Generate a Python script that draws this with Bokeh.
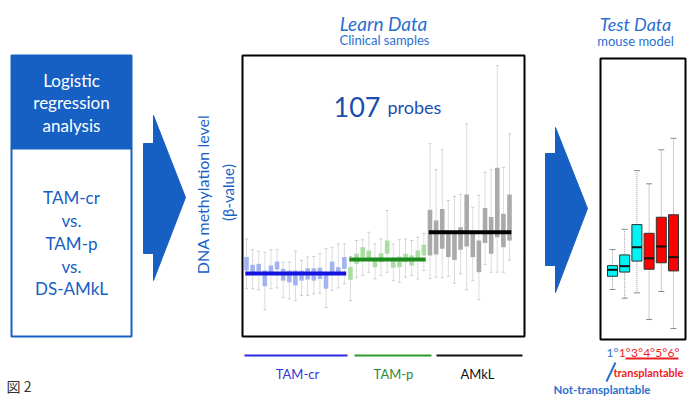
from bokeh.plotting import figure
from bokeh.models import Range1d
from bokeh.embed import file_html
from bokeh.resources import INLINE
from bokeh.core.properties import value
import math

# ---------------- data ----------------
group_names = ["TAM-cr", "TAM-p", "AMkL"]
group_level = [0.221, 0.271, 0.369]

tamcr_q3 = [0.280, 0.253, 0.256, 0.232, 0.250, 0.264, 0.238, 0.232, 0.232, 0.232, 0.240, 0.240, 0.242, 0.226, 0.264, 0.244, 0.280]
tamcr_q1 = [0.232, 0.226, 0.229, 0.176, 0.226, 0.236, 0.196, 0.190, 0.179, 0.196, 0.200, 0.196, 0.202, 0.167, 0.226, 0.226, 0.238]
tamcr_hi = [0.345, 0.306, 0.301, 0.297, 0.306, 0.306, 0.262, 0.262, 0.301, 0.268, 0.280, 0.282, 0.292, 0.310, 0.315, 0.327, 0.327]
tamcr_lo = [0.167, 0.167, 0.163, 0.092, 0.167, 0.170, 0.135, 0.131, 0.125, 0.143, 0.143, 0.149, 0.151, 0.100, 0.161, 0.170, 0.185]

tamp_q3 = [0.244, 0.292, 0.315, 0.304, 0.278, 0.294, 0.339, 0.270, 0.282, 0.292, 0.286, 0.304, 0.324]
tamp_q1 = [0.199, 0.256, 0.280, 0.274, 0.244, 0.262, 0.292, 0.242, 0.244, 0.262, 0.250, 0.274, 0.286]
tamp_hi = [0.282, 0.339, 0.342, 0.369, 0.327, 0.345, 0.446, 0.327, 0.342, 0.345, 0.339, 0.351, 0.364]
tamp_lo = [0.125, 0.208, 0.214, 0.226, 0.202, 0.214, 0.226, 0.196, 0.190, 0.208, 0.214, 0.202, 0.232]

amkl_q3 = [0.449, 0.411, 0.452, 0.375, 0.369, 0.387, 0.504, 0.375, 0.339, 0.455, 0.423, 0.599, 0.435, 0.504]
amkl_q1 = [0.286, 0.289, 0.310, 0.280, 0.270, 0.306, 0.318, 0.280, 0.226, 0.330, 0.292, 0.351, 0.315, 0.339]
amkl_hi = [0.685, 0.592, 0.663, 0.482, 0.496, 0.504, 0.756, 0.458, 0.500, 0.583, 0.592, 0.964, 0.600, 0.720]
amkl_lo = [0.203, 0.208, 0.206, 0.211, 0.187, 0.220, 0.163, 0.196, 0.128, 0.254, 0.226, 0.226, 0.226, 0.270]

test_labels = ["1°", "1°", "3°", "4°", "5°", "6°"]
test_q3 = [0.263, 0.301, 0.409, 0.378, 0.435, 0.444]
test_q1 = [0.225, 0.240, 0.279, 0.250, 0.273, 0.244]
test_med = [0.248, 0.261, 0.328, 0.289, 0.331, 0.293]
test_hi = [0.320, 0.392, 0.601, 0.554, 0.675, 0.716]
test_lo = [0.178, 0.147, 0.166, 0.071, 0.171, 0.039]

# ---------------- canvas ----------------
W, H = 691, 398
PX0, PX1 = 0, W
PY0, PY1 = 0, H

p = figure(width=W, height=H, x_range=Range1d(PX0, PX1), y_range=Range1d(PY1, PY0),
           output_backend="svg", toolbar_location=None, min_border=0)
p.xaxis.visible = False
p.yaxis.visible = False
p.grid.visible = False
p.outline_line_color = None
p.background_fill_color = "white"
p.border_fill_color = "white"


def xrange_for(d0, p0, d1, p1):
    k = (p1 - p0) / (d1 - d0)
    return Range1d(d0 + (PX0 - p0) / k, d0 + (PX1 - p0) / k)


def yrange_for(d0, p0, d1, p1):
    k = (p1 - p0) / (d1 - d0)
    return Range1d(d0 + (PY1 - p0) / k, d0 + (PY0 - p0) / k)


p.extra_x_ranges = {"learn": xrange_for(1, 246, 44, 509), "test": xrange_for(1, 612, 6, 673)}
p.extra_y_ranges = {"beta": yrange_for(0, 335, 1, 55), "tbeta": yrange_for(0, 339, 1, 58)}

FONT = value("Lato")
BLUE = "#1660c4"
LBLUE = "#2a6fd0"

# ---------------- left box ----------------
p.quad(left=[11], right=[131], top=[55], bottom=[148], fill_color=BLUE, line_color=BLUE, line_width=2)
p.quad(left=[11], right=[131], top=[148], bottom=[336], fill_color="white", line_color=BLUE, line_width=2)
p.text(x=[71, 71, 71], y=[80, 102, 125], text=["Logistic", "regression", "analysis"],
       text_font=FONT, text_font_size="17px", text_color="white",
       text_align="center", text_baseline="middle")
p.text(x=[71] * 5, y=[197, 220, 243, 266, 288], text=["TAM-cr", "vs.", "TAM-p", "vs.", "DS-AMkL"],
       text_font=FONT, text_font_size="17px", text_color=BLUE,
       text_align="center", text_baseline="middle")

# arrows
p.patch(x=[143, 153, 153, 185, 153, 153, 143], y=[143, 143, 115, 197, 280, 253, 253],
        fill_color=BLUE, line_color=BLUE)
p.patch(x=[545, 555, 555, 587, 555, 555, 545], y=[153, 153, 127, 208, 292, 265, 265],
        fill_color=BLUE, line_color=BLUE)

# y label
p.text(x=[202], y=[194], text=["DNA methylation level"], angle=math.pi / 2,
       text_font=FONT, text_font_size="16px", text_color=BLUE,
       text_align="center", text_baseline="middle")
p.text(x=[227], y=[192], text=["(β-value)"], angle=math.pi / 2,
       text_font=FONT, text_font_size="15px", text_color=BLUE,
       text_align="center", text_baseline="middle")

# titles
p.text(x=[383], y=[23], text=["Learn Data"], text_font=FONT, text_font_size="19px",
       text_font_style="italic", text_color=LBLUE, text_align="center", text_baseline="middle")
p.text(x=[384], y=[39], text=["Clinical samples"], text_font=FONT, text_font_size="13px",
       text_color=LBLUE, text_align="center", text_baseline="middle")
p.text(x=[635], y=[23], text=["Test Data"], text_font=FONT, text_font_size="18px",
       text_font_style="italic", text_color=LBLUE, text_align="center", text_baseline="middle")
p.text(x=[635], y=[40], text=["mouse model"], text_font=FONT, text_font_size="13px",
       text_color=LBLUE, text_align="center", text_baseline="middle")

# panels
p.quad(left=[242], right=[524], top=[55], bottom=[336], fill_color=None, line_color="black", line_width=2)
p.quad(left=[600], right=[685], top=[58], bottom=[339], fill_color=None, line_color="black", line_width=2)

p.text(x=[380], y=[106], text=["107"], text_font=FONT, text_font_size="27px",
       text_color="#1a4fb0", text_align="right", text_baseline="alphabetic")
p.text(x=[387], y=[106], text=["probes"], text_font=FONT, text_font_size="18px",
       text_color="#1a4fb0", text_align="left", text_baseline="alphabetic")

# ---------------- learn boxplots ----------------
groups = [
    (tamcr_q1, tamcr_q3, tamcr_lo, tamcr_hi, "#a3b3f2", "#1414e0"),
    (tamp_q1, tamp_q3, tamp_lo, tamp_hi, "#a9dea2", "#1d8a1d"),
    (amkl_q1, amkl_q3, amkl_lo, amkl_hi, "#aaaaaa", "#000000"),
]
start = 1
for (q1, q3, lo, hi, fill, lcol), lvl in zip(groups, group_level):
    n = len(q1)
    xs = list(range(start, start + n))
    p.segment(x0=xs, x1=xs, y0=lo, y1=hi, line_color="#dcdcdc", line_width=1,
              x_range_name="learn", y_range_name="beta")
    p.rect(x=xs + xs, y=lo + hi, width=3, height=1, width_units="screen", height_units="screen",
           fill_color="#cccccc", line_color=None, x_range_name="learn", y_range_name="beta")
    p.vbar(x=xs, width=0.75, bottom=q1, top=q3, fill_color=fill, line_color=None,
           x_range_name="learn", y_range_name="beta")
    p.segment(x0=[start - 0.2], x1=[start + n - 1 + 0.3], y0=[lvl], y1=[lvl],
              line_color=lcol, line_width=4, x_range_name="learn", y_range_name="beta")
    start += n

# group underline labels
p.segment(x0=[244, 354, 436], x1=[347, 431, 522], y0=[355] * 3, y1=[355] * 3,
          line_color=["#2b2be0", "#2a9a2a", "#111111"], line_width=2)
p.text(x=[297, 393, 477], y=[373] * 3, text=group_names, text_font=FONT, text_font_size="13px",
       text_color=["#3535d8", "#2a8a3a", "#111111"], text_align="center", text_baseline="middle")

# ---------------- test boxplots ----------------
tx = list(range(1, len(test_q1) + 1))
tfill = ["#00f4f4", "#00f4f4", "#00f4f4", "#ff0000", "#ff0000", "#ff0000"]
p.segment(x0=tx, x1=tx, y0=test_lo, y1=test_hi, line_color="#999999", line_width=1,
          line_dash="1 1", x_range_name="test", y_range_name="tbeta")
p.dash(x=tx + tx, y=test_lo + test_hi, size=6, line_color="#888888", line_width=1,
       x_range_name="test", y_range_name="tbeta")
p.vbar(x=tx, width=0.82, bottom=test_q1, top=test_q3, fill_color=tfill, line_color="#333333",
       line_width=1, x_range_name="test", y_range_name="tbeta")
p.dash(x=tx, y=test_med, size=10, line_color="#111111", line_width=2,
       x_range_name="test", y_range_name="tbeta")

p.text(x=tx, y=[352] * 6, text=test_labels, text_font=FONT, text_font_size="12px",
       text_color=[LBLUE, "#ee2222", "#ee2222", "#ee2222", "#ee2222", "#ee2222"],
       text_align="center", text_baseline="middle", x_range_name="test")
p.segment(x0=[625], x1=[678], y0=[358], y1=[358], line_color="#ee2222", line_width=2)
p.text(x=[613], y=[372], text=["transplantable"], text_font=FONT, text_font_size="11px",
       text_font_style="bold", text_color="#ee2222", text_align="left", text_baseline="middle")
p.segment(x0=[615], x1=[606], y0=[362], y1=[381], line_color=LBLUE, line_width=2)
p.text(x=[553], y=[389], text=["Not-transplantable"], text_font=FONT, text_font_size="11.5px",
       text_font_style="bold", text_color=LBLUE, text_align="left", text_baseline="middle")

p.text(x=[6], y=[385], text=["図 2"], text_font=value("Noto Sans CJK JP"), text_font_size="14px",
       text_color="#333333", text_align="left", text_baseline="middle")

open("out.html", "w").write(file_html(p, INLINE))
